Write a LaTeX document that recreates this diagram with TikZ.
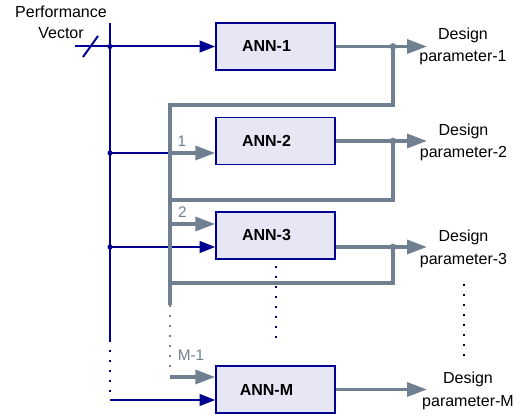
\documentclass[tikz,border=0pt]{standalone}
\usepackage{fontspec}
\setmainfont{Liberation Sans}
\usetikzlibrary{arrows.meta}
\definecolor{busblue}{RGB}{0,0,145}
\definecolor{fbgray}{RGB}{112,128,144}
\definecolor{annfill}{RGB}{230,230,245}
\begin{document}
\begin{tikzpicture}[x=0.75pt, y=-0.75pt,
    font=\fontsize{12}{17}\selectfont,
    bus/.style={busblue, line width=1.5pt},
    fb/.style={fbgray, line width=2.5pt},
    busarrow/.style={bus, -{Triangle[length=11.75pt, width=8.75pt]}},
    fbarrow/.style={fb, -{Triangle[length=15pt, width=10.5pt]}},
    dotline/.style={dash pattern=on 1.5pt off 6pt},
    annbox/.style={draw=busblue, line width=1.1pt, fill=annfill,
      minimum width=89.25pt, minimum height=35.25pt,
      font=\fontsize{12}{14}\selectfont\bfseries,
      execute at end node=\hspace*{13.5pt}},
    outlbl/.style={align=center, inner sep=0pt},
    fblbl/.style={fbgray, inner sep=0pt, font=\fontsize{11.5}{13}\selectfont}]
  \useasboundingbox (0,0) rectangle (522,416);
  \node[annbox] (ann1) at (275.5,46.5) {ANN-1};
  \node[annbox] (ann2) at (275.5,141) {ANN-2};
  \node[annbox] (ann3) at (275.5,235.5) {ANN-3};
  \node[annbox] (annM) at (275.5,389.5) {ANN-M};
  \node[outlbl] (out1) at (463,46.5) {Design\\parameter-1};
  \node[outlbl] (out2) at (463.5,142.5) {Design\\parameter-2};
  \node[outlbl] (out3) at (463.5,249) {Design\\parameter-3};
  \node[outlbl] (outM) at (468,391) {Design\\parameter-M};
  \node[outlbl, align=center, font=\fontsize{12}{15.75}\selectfont] (perf) at (61,22) {Performance\\Vector};
  \coordinate (in) at (75,46.5);
  \coordinate (top) at (110,23);
  \coordinate (b1) at (110,46.5);
  \coordinate (b2) at (110,153);
  \coordinate (b3) at (110,247);
  \coordinate (bdot) at (110,340);
  \coordinate (bM) at (110,400);
  \coordinate (f1) at (170,105);
  \coordinate (f2) at (170,200);
  \coordinate (f3) at (170,283);
  \coordinate (fdot) at (170,305);
  \coordinate (fend) at (170,370);
  \coordinate (g1) at (170,153);
  \coordinate (g2) at (170,224);
  \coordinate (gM) at (170,377);
  \coordinate (t1) at (393,46.5);
  \coordinate (t2) at (393,141);
  \coordinate (t3) at (393,247);
  \coordinate (p1) at (427,46.5);
  \coordinate (p2) at (427,141);
  \coordinate (p3) at (427,247);
  \coordinate (pM) at (427,389.5);
  \draw[bus] (top) -- (bdot);
  \draw[bus, dotline] (bdot) -- (bM);
  \draw[bus] (in) -- (b1);
  \draw[bus] (83,57) -- (98,36);
  \draw[busarrow] (b1) -- (ann1);
  \draw[bus] (b2) -- (g1);
  \draw[busarrow] (b3) -- (b3 -| ann3.west);
  \draw[busarrow] (bM) -- (bM -| annM.west);
  \fill[busblue] (b1) circle (1.9pt) (b2) circle (1.9pt) (b3) circle (1.9pt);
  \draw[fb] (ann1) -- (t1) -- (t1 |- f1) -- (f1) -- (fdot);
  \draw[fb, line width=2pt, dotline] (fdot) -- (fend);
  \draw[fb] (ann2) -- (t2) -- (t2 |- f2) -- (f2);
  \draw[fb] (t3 -| ann3.east) -- (t3) -- (t3 |- f3) -- (f3);
  \draw[fbarrow] (t1) -- (p1);
  \draw[fbarrow] (t2) -- (p2);
  \draw[fbarrow] (t3) -- (p3);
  \draw[fbarrow] (annM) -- (pM);
  \fill[fbgray] (t1) circle (2.5pt) (t2) circle (2.5pt) (t3) circle (2.5pt);
  \draw[fbarrow] (g1) -- (g1 -| ann2.west);
  \draw[fbarrow] (g2) -- (g2 -| ann3.west);
  \draw[fbarrow] (gM) -- (gM -| annM.west);
  \node[fblbl] (l1) at (182,141) {1};
  \node[fblbl] (l2) at (182.5,212) {2};
  \node[fblbl] (lM) at (191,355) {M-1};
  \draw[bus, dotline] (276,266) -- (276,346);
  \draw[line width=1.5pt, dotline] (464,284) -- (464,364);
\end{tikzpicture}
\end{document}
